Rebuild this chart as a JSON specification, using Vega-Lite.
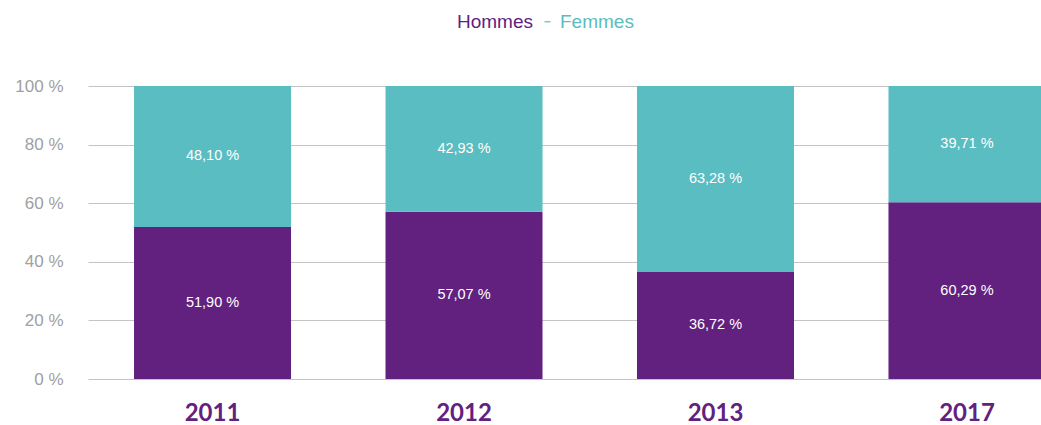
{
  "$schema": "https://vega.github.io/schema/vega-lite/v6.json",
  "width": 953,
  "height": 293,
  "autosize": "none",
  "padding": {"left": 88, "top": 86, "right": 0, "bottom": 46},
  "config": {
    "view": {"stroke": null},
    "locale": {"number": {"decimal": ",", "thousands": " ", "grouping": [3], "currency": ["", " %"]}},
    "font": "Liberation Sans"
  },
  "data": {
    "values": [
      {"annee": "2011", "sexe": "Hommes", "valeur": 51.90},
      {"annee": "2011", "sexe": "Femmes", "valeur": 48.10},
      {"annee": "2012", "sexe": "Hommes", "valeur": 57.07},
      {"annee": "2012", "sexe": "Femmes", "valeur": 42.93},
      {"annee": "2013", "sexe": "Hommes", "valeur": 36.72},
      {"annee": "2013", "sexe": "Femmes", "valeur": 63.28},
      {"annee": "2017", "sexe": "Hommes", "valeur": 60.29},
      {"annee": "2017", "sexe": "Femmes", "valeur": 39.71}
    ]
  },
  "encoding": {
    "x": {
      "field": "annee",
      "type": "nominal",
      "scale": {"range": [0, 1003.5], "paddingInner": 0.3757, "paddingOuter": 0.183},
      "axis": {
        "title": null,
        "domain": false,
        "ticks": false,
        "labelAngle": 0,
        "labelFont": "Lato",
        "labelFontWeight": "bold",
        "labelFontSize": 24,
        "labelColor": "#62217f",
        "labelBaseline": "alphabetic",
        "labelPadding": 41,
        "labelDx": 4
      }
    }
  },
  "layer": [
    {
      "mark": {"type": "bar", "clip": true},
      "encoding": {
        "y": {
          "field": "valeur",
          "type": "quantitative",
          "stack": "zero",
          "scale": {"domain": [0, 100], "nice": false},
          "axis": {
            "title": null,
            "values": [0, 20, 40, 60, 80, 100],
            "format": "$.0f",
            "domain": false,
            "ticks": false,
            "grid": true,
            "gridColor": "#c4c4c4",
            "gridWidth": 1,
            "labelColor": "#a0a0a0",
            "labelFontSize": 17,
            "labelPadding": 25
          }
        },
        "color": {
          "field": "sexe",
          "type": "nominal",
          "scale": {"domain": ["Hommes", "Femmes"], "range": ["#62217f", "#5abdc1"]},
          "legend": {
            "orient": "none",
            "legendX": 347,
            "legendY": -74,
            "direction": "horizontal",
            "title": null,
            "padding": 0,
            "labelFontSize": 19,
            "labelFont": "Liberation Sans",
            "symbolType": "M-1,-0.25H1V0.25H-1Z",
            "symbolSize": 36,
            "symbolStrokeWidth": 0,
            "labelOffset": 3,
            "columnPadding": 4,
            "encode": {
              "labels": {"update": {"fill": {"scale": "color", "field": "value"}}},
              "symbols": {"update": {"opacity": {"signal": "datum.index === 0 ? 0 : 0.8"}}}
            }
          }
        },
        "order": {"field": "sexe", "sort": "descending"}
      }
    },
    {
      "mark": {"type": "text", "color": "white", "fontSize": 14.5, "font": "Liberation Sans"},
      "encoding": {
        "y": {"field": "valeur", "type": "quantitative", "stack": "zero", "bandPosition": 0.5},
        "text": {"field": "valeur", "type": "quantitative", "format": "$.2f"},
        "detail": {"field": "sexe"},
        "order": {"field": "sexe", "sort": "descending"}
      }
    }
  ]
}
